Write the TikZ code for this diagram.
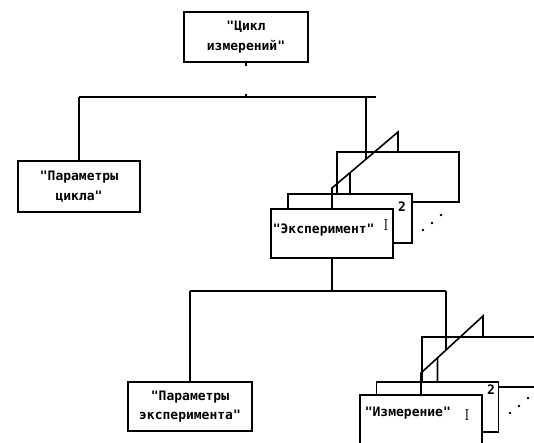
\documentclass[tikz,border=0pt]{standalone}
\usepackage{fontspec}
\setmonofont{DejaVu Sans Mono}
\newcommand{\labfont}{\ttfamily\bfseries\fontsize{13}{19.5}\selectfont}
\newcommand{\numfont}{\rmfamily\fontsize{16}{16}\selectfont}
\tikzset{
  blk/.style={draw,fill=white,minimum width=122pt,minimum height=49pt,
    inner sep=0pt,align=center,font=\labfont},
  lbl/.style={font=\labfont,inner sep=0pt},
}
\begin{document}
\begin{tikzpicture}[x=1pt,y=-1pt,line width=1.6pt]
\useasboundingbox (0,0) rectangle (534,443);
\clip (0,0) rectangle (534,443);
%
\node[blk,minimum width=124pt,minimum height=50pt] (cycle) at (246,37) {"Цикл\\измерений"};
\node[blk,minimum height=51pt] (cyclepar) at (79,186.5) {"Параметры\\цикла"};
\node[blk,minimum width=124pt] (exppar) at (190,406.5) {"Параметры\\эксперимента"};
%
\node[blk,minimum height=50pt] (exp3) at (398,177) {};
\node[blk,minimum width=124pt] (exp2) at (350,218.5) {};
\node[blk] (exp1) at (332,233.5) {};
\node[lbl,anchor=west] (exptxt) at (272,230) {"Эксперимент"};
\node[lbl,font=\numfont] (expI) at (386,225) {I};
\node[lbl] (exp2no) at (402,207) {2};
\foreach \p in {(423,230),(432,223),(441,215)} \fill \p circle (1.4);
%
\node[blk,minimum height=50pt] (meas3) at (483,362) {};
\node[blk,minimum height=50pt] (meas2) at (437.5,407) {};
\node[blk] (meas1) at (421,419.5) {};
\node[lbl,anchor=west] (meastxt) at (364,413) {"Измерение"};
\node[lbl,font=\numfont] (measI) at (467,415) {I};
\node[lbl] (meas2no) at (491,390) {2};
\foreach \p in {(510,413),(519,406),(528,398)} \fill \p circle (1.4);
%
\coordinate (bar1l) at (79,97);
\coordinate (bar1r) at (376,97);
\coordinate (expin) at (366,97);
\coordinate (expdown) at (366,200);
\coordinate (exptip) at (398,132);
\coordinate (expfoot) at (332,188);
\draw (bar1l) -- (bar1r);
\draw (cycle.south) -- ++(0,3);
\draw (cycle.south |- bar1l) -- ++(0,-3);
\draw (cyclepar.north) -- (cyclepar.north |- bar1l);
\draw (exp3.north) -- (exptip) -- (expfoot) -- (exp1.north);
\draw (exp2.north) -- (intersection of exptip--expfoot and exp2.north--exp2.center);
\draw (expin) -- (intersection of exptip--expfoot and expin--expdown);
%
\coordinate (bar2l) at (190,291);
\coordinate (bar2r) at (446,291);
\coordinate (measdown) at (446,380);
\coordinate (meastip) at (483,316);
\coordinate (measfoot) at (421,373);
\draw (exp1.south) -- (exp1.south |- bar2l);
\draw (bar2l) -- (bar2r);
\draw (exppar.north) -- (exppar.north |- bar2l);
\draw (meas3.north) -- (meastip) -- (measfoot) -- (meas1.north);
\draw (meas2.north) -- (intersection of meastip--measfoot and meas2.north--meas2.center);
\draw (bar2r) -- (intersection of meastip--measfoot and bar2r--measdown);
%
\end{tikzpicture}
\end{document}
